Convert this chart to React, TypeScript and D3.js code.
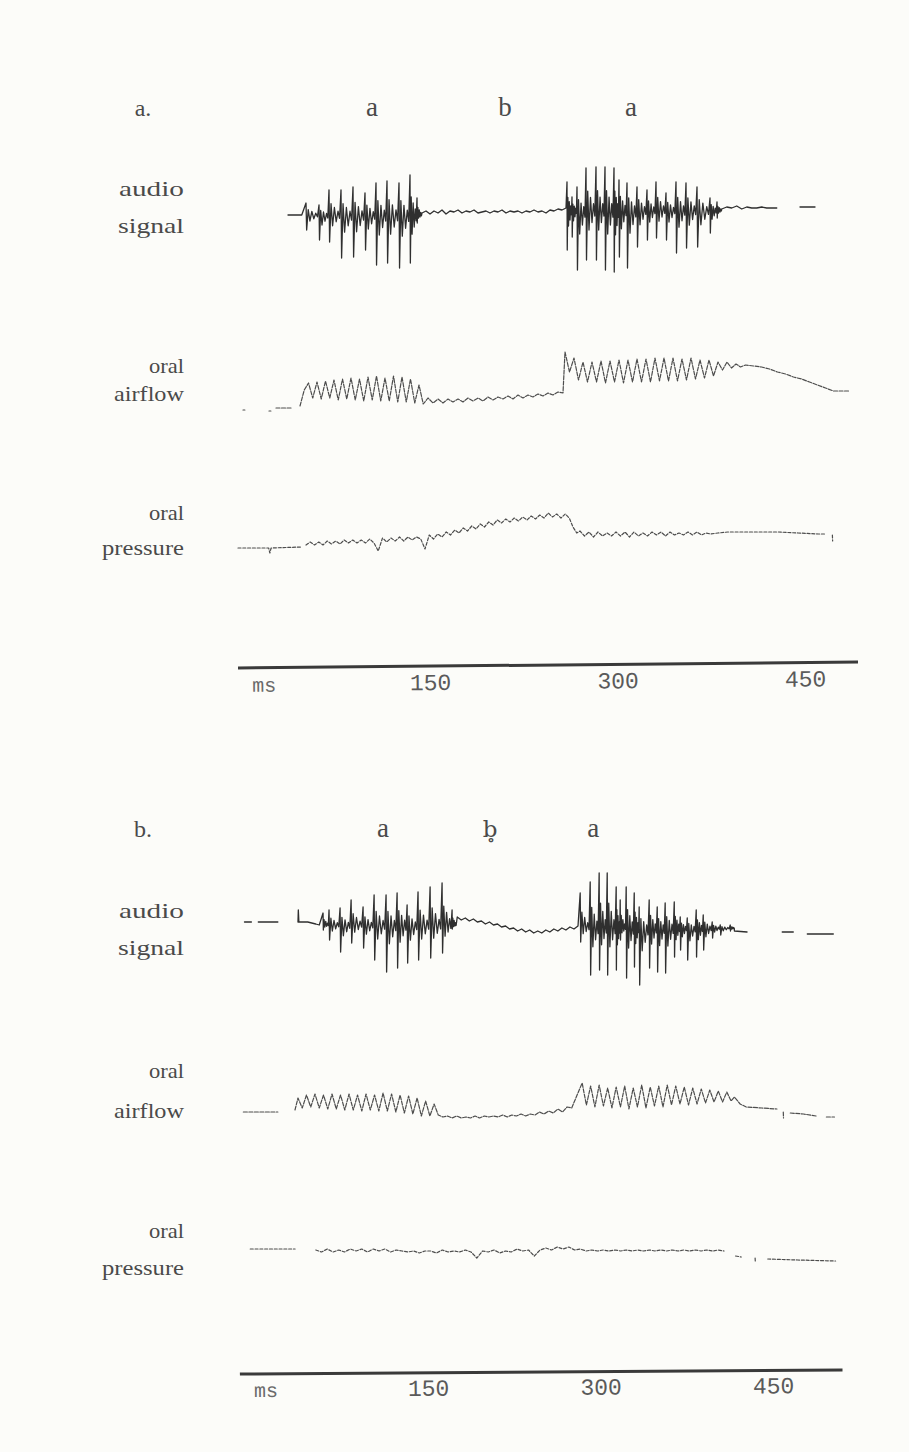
import React from "react";
import * as d3 from "d3";

type Pt = [number, number];
type Pulse = [number, number, number]; // time ms, positive peak, negative peak
type Run = { t0?: number; dt?: number; v?: number[]; pts?: Pt[]; pulses?: Pulse[]; base?: number; join?: boolean };

// ---------- text ----------
const PANEL_LETTERS = ["a.", "b."];
const PHONES_A = [{ t: 103.2, s: "a" }, { t: 209.6, s: "b" }, { t: 310.4, s: "a" }];
const PHONES_B = [{ t: 110.5, s: "a" }, { t: 203.6, s: "b\u0325" }, { t: 293.2, s: "a" }];
const TRACE_NAMES = [["audio", "signal"], ["oral", "airflow"], ["oral", "pressure"]];
const TICK_VALUES = [150, 300, 450];
const UNIT_LABEL = "ms";

// ---------- panel a data (time in ms, amplitude in trace units) ----------
const AUDIO_A_LEAD: Run = { pts: [[36, -2], [47, -2]] };
const AUDIO_A_SYL1: Pulse[] = [[50.4, 12, -15], [60.8, 10, -25], [68.8, 25, -27], [78.4, 25, -43], [88.0, 28, -42], [97.6, 22, -35], [106.4, 32, -50], [115.2, 34, -48], [124.8, 32, -53], [133.6, 40, -48], [139.2, 17, -8]];
const AUDIO_A_MID = [0, 2, -1, 2, 0, 3, -1, 2, 1, 3, 0, 2, 1, 3, 0, 1, 2, 0, 2, 1, 3, 0, 2, 1, 2, 0, 2, 1, 3, 1, 2, 0, 3, 2, 4, 3, 5];
const AUDIO_A_SYL2: Pulse[] = [[259.2, 28, -40], [263.2, 13, -27], [267.2, 23, -60], [274.4, 42, -50], [282.4, 43, -50], [289.6, 43, -60], [296.8, 42, -62], [300.8, 30, -47], [307.2, 27, -58], [315.2, 23, -37], [323.2, 20, -30], [330.4, 28, -28], [338.4, 17, -30], [346.4, 28, -43], [354.4, 27, -38], [363.2, 23, -37], [373.6, 12, -23], [379.2, 8, -8]];
const AUDIO_A_TAIL = [4, 6, 5, 7, 4, 6, 5, 5, 6, 5, 5, 5];
const AUDIO_A_DASH: Pt[] = [[445.6, 6], [457.6, 6]];

const AIRFLOW_A_DOTS: Pt[][] = [[[0, -10], [1.5, -10]], [[20.8, -11], [22.3, -11]], [[26.4, -8], [38.4, -8]]];
const AIRFLOW_A_VOWEL1 = [-6, 10, 17, 2, 18, 1, 19, 2, 20, 0, 21, 1, 22, 0, 21, -1, 23, 0, 24, -1, 22, -1, 24, -2, 23, -2, 21, -3, 15, -4];
const AIRFLOW_A_STOP = [2, -3, 1, -3, 1, -2, 1, -2, 2, -1, 2, -1, 3, 0, 3, 1, 4, 1, 5, 2, 5, 3, 6, 4, 7, 5, 8, 7];
const AIRFLOW_A_VOWEL2 = [48, 28, 42, 20, 38, 18, 38, 18, 39, 17, 39, 18, 40, 17, 40, 18, 41, 18, 41, 18, 42, 19, 42, 19, 42, 19, 41, 20, 42, 21, 40, 22, 40, 24, 38, 30, 38, 32, 36, 33];
const AIRFLOW_A_DECAY = [35, 34, 33, 31, 28, 26, 23, 21, 18, 15, 12, 9, 9, 9];

const PRESSURE_A_LEAD: Pt[] = [[-4, -8], [20.5, -8], [21.5, -13], [22.5, -8], [47.2, -7]];
const PRESSURE_A_RISE = [-5, -2, -5, -2, -5, -1, -4, -1, -4, 0, -3, 0, -3, 0, -3, 1, -3, -11, 2, -2, 2, -1, 3, -1, 3, 0, 3, 1, -9, 5, 1, 6, 3, 8, 5, 10, 7, 12, 9, 14, 11, 16, 13, 18, 15, 20, 17, 21, 18, 22, 19, 23, 20, 24, 21, 25, 22, 27, 23, 26, 22, 26];
const PRESSURE_A_DROP: Pt[] = [[261, 22], [264, 13], [267, 7]];
const PRESSURE_A_VOWEL2 = [9, 4, 8, 3, 8, 4, 7, 4, 8, 4, 8, 3, 8, 4, 7, 4, 8, 5, 8, 4, 8, 5, 7, 5, 8, 5, 8, 5, 7, 6];
const PRESSURE_A_TAIL: Pt[] = [[380, 7], [388, 8], [428, 8], [444, 7], [460, 6], [466, 6]];
const PRESSURE_A_END: Pt[] = [[471.5, 5], [471.7, -1]];

// ---------- panel b data ----------
const AUDIO_B_DASHES: Pt[][] = [[[-10, 3], [-4, 3]], [[2, 3], [19, 3]]];
const AUDIO_B_ONSET: Pt[] = [[36.5, 3], [36.8, 15], [37.3, 3], [45, 3], [52, 1], [55, 0]];
const AUDIO_B_SYL1: Pulse[] = [[58.3, 12, -5], [63.5, 15, -15], [73.1, 17, -27], [82.7, 25, -18], [93.1, 18, -23], [102.7, 30, -35], [113.1, 30, -47], [122.7, 32, -43], [131.4, 20, -38], [140.9, 33, -35], [151.4, 38, -33], [161.8, 42, -28], [170.5, 15, -4]];
const AUDIO_B_MID = [8, 5, 7, 4, 6, 3, 4, 1, 3, 0, 1, -2, -1, -4, -3, -6, -4, -7, -5, -8, -6, -8, -5, -7, -4, -6, -3, -5, -2, -4, -1];
const AUDIO_B_SYL2: Pulse[] = [[281.9, 35, -14], [290.6, 46, -47], [298.4, 55, -42], [305.4, 55, -47], [313.2, 41, -42], [316.7, 28, -12], [321.9, 41, -50], [328.9, 35, -39], [333.2, 21, -57], [341.9, 28, -40], [348.9, 21, -44], [355.8, 25, -45], [363.7, 26, -29], [368.9, 11, -22], [375, 10, -32], [382.8, 18, -29], [388.9, 13, -22], [396.7, 6, -10], [403.7, 3, -7], [412.4, 3, -3]];
const AUDIO_B_TAIL: Pt[] = [[416, -6], [427, -7]];
const AUDIO_B_END: Pt[][] = [[[457.6, -7], [467.2, -7]], [[479.4, -9], [502, -9]]];

const AIRFLOW_B_LEAD: Pt[] = [[-11, -2], [19, -2]];
const AIRFLOW_B_VOWEL1 = [12, 2, 15, 3, 16, 2, 15, 1, 16, 1, 15, 0, 16, 0, 15, -1, 16, 0, 15, -1, 17, -1, 16, -2, 15, -3, 14, -4, 12, -6, 9, -6, 6];
const AIRFLOW_B_STOP = [-5, -7, -6, -8, -6, -8, -7, -8, -6, -8, -6, -7, -6, -7, -5, -7, -5, -6, -4, -6, -4, -5, -2, -4, -1, -3, 1, -2, 3, 2];
const AIRFLOW_B_VOWEL2 = [27, 5, 24, 3, 25, 4, 22, 2, 23, 3, 24, 1, 22, 3, 25, 2, 23, 4, 24, 3, 25, 5, 24, 6, 23, 5, 22, 6, 21, 7, 20, 8, 19, 8, 18, 9];
const AIRFLOW_B_DECAY: Pt[] = [[416, 13], [421, 6], [426.3, 3], [440, 2], [453, 1]];
const AIRFLOW_B_END: Pt[][] = [[[458.5, -2], [458.7, -8]], [[464.6, -3], [476, -4], [487, -6]], [[496, -7], [503, -7]]];

const PRESSURE_B_LEAD: Pt[] = [[-5, 1], [34, 1]];
const PRESSURE_B_MAIN = [0, -2, 1, -2, 0, -2, 1, -1, 1, -2, 1, -1, 1, -2, 0, -1, -2, -1, -3, -1, -1, -3, 0, -2, -1, -2, 0, -2, -8, -1, -2, 0, -3, -1, -2, 1, -1, 0, -6, 0, 2, 0, 3, 1, 3, 0, 1, -1, 0, -1, 0, -1, 0, -1, 0, -1, 0, -1, 0, -1, 0, -1, 0, -1, 0, -1, 0, -1, 0, -1, 0, -1];
const PRESSURE_B_END: Pt[][] = [[[417, -6], [422, -7]], [[434, -8], [434.2, -12]], [[445, -9], [471, -10], [504, -11]]];

// ---------- assembled runs ----------
const AUDIO_A: Run[] = [
  AUDIO_A_LEAD,
  { pulses: AUDIO_A_SYL1, base: -2, join: true },
  { t0: 143.2, dt: 3.2, v: AUDIO_A_MID, join: true },
  { pulses: AUDIO_A_SYL2, base: 3, join: true },
  { t0: 383, dt: 4, v: AUDIO_A_TAIL, join: true },
  { pts: AUDIO_A_DASH },
];
const AIRFLOW_A: Run[] = [
  ...AIRFLOW_A_DOTS.map((p) => ({ pts: p })),
  { t0: 45.6, dt: 3.4, v: AIRFLOW_A_VOWEL1 },
  { t0: 148, dt: 4, v: AIRFLOW_A_STOP, join: true },
  { t0: 257.6, dt: 3.6, v: AIRFLOW_A_VOWEL2, join: true },
  { t0: 402, dt: 6.4, v: AIRFLOW_A_DECAY, join: true },
];
const PRESSURE_A: Run[] = [
  { pts: PRESSURE_A_LEAD },
  { t0: 50.4, dt: 3.4, v: PRESSURE_A_RISE },
  { pts: PRESSURE_A_DROP, join: true },
  { t0: 269.6, dt: 3.6, v: PRESSURE_A_VOWEL2, join: true },
  { pts: PRESSURE_A_TAIL, join: true },
  { pts: PRESSURE_A_END },
];
const AUDIO_B: Run[] = [
  ...AUDIO_B_DASHES.map((p) => ({ pts: p })),
  { pts: AUDIO_B_ONSET },
  { pulses: AUDIO_B_SYL1, base: 0, join: true },
  { t0: 175, dt: 3.5, v: AUDIO_B_MID, join: true },
  { pulses: AUDIO_B_SYL2, base: -3, join: true },
  { pts: AUDIO_B_TAIL, join: true },
  ...AUDIO_B_END.map((p) => ({ pts: p })),
];
const AIRFLOW_B: Run[] = [
  { pts: AIRFLOW_B_LEAD },
  { pts: [[33.9, 0]] },
  { t0: 36.5, dt: 3.7, v: AIRFLOW_B_VOWEL1, join: true },
  { t0: 158.5, dt: 4, v: AIRFLOW_B_STOP, join: true },
  { t0: 283.6, dt: 3.7, v: AIRFLOW_B_VOWEL2, join: true },
  { pts: AIRFLOW_B_DECAY, join: true },
  ...AIRFLOW_B_END.map((p) => ({ pts: p })),
];
const PRESSURE_B: Run[] = [
  { pts: PRESSURE_B_LEAD },
  { t0: 52, dt: 5, v: PRESSURE_B_MAIN },
  ...PRESSURE_B_END.map((p) => ({ pts: p })),
];

// glottal pulse glyph: relative positions within one period and amplitude weights
const GLYPH_POS = [0, 0.05, 0.17, 0.3, 0.45, 0.6, 0.75, 0.88];
const GLYPH_W: [number, number][] = [[1, 0], [0, 1], [0.45, 0], [0, 0.4], [0.3, 0], [0, 0.25], [0.15, 0], [0, 0.12]];

function runPoints(r: Run): Pt[] {
  if (r.pts) return r.pts;
  if (r.pulses) {
    const out: Pt[] = [];
    const b = r.base ?? 0;
    r.pulses.forEach((p, i) => {
      const next = r.pulses![i + 1];
      const P = next ? next[0] - p[0] : 4;
      GLYPH_POS.forEach((f, k) => {
        const [wu, wd] = GLYPH_W[k];
        out.push([p[0] + f * P, b + wu * p[1] + wd * p[2]]);
      });
    });
    return out;
  }
  return r.v!.map((v, i) => [r.t0! + i * r.dt!, v] as Pt);
}

function strokes(runs: Run[]): Pt[][] {
  const out: Pt[][] = [];
  runs.forEach((r) => {
    const p = runPoints(r);
    if (r.join && out.length) out[out.length - 1].push(...p);
    else out.push([...p]);
  });
  return out;
}

const INK = "#3a3a3a";
const SERIF = "'Liberation Serif', 'Times New Roman', serif";
const MONO = "'Liberation Mono', 'DejaVu Sans Mono', monospace";
const NAME_WIDTHS = [[65, 66], [35, 70], [35, 82]];

type PanelCfg = {
  letter: string;
  phones: { t: number; s: string }[];
  x: d3.ScaleLinear<number, number>;
  axisExtent: [number, number];
  headY: number;
  zeros: number[];
  runs: Run[][];
  nameY: [number, number][];
  axisY: number;
  tickY: number;
  tilt: number;
};

function Trace({ runs, x, zero, width, color, dash }: { runs: Run[]; x: d3.ScaleLinear<number, number>; zero: number; width: number; color: string; dash?: string }) {
  const y = d3.scaleLinear().domain([-70, 70]).range([zero + 70, zero - 70]);
  const line = d3.line<Pt>().x((d) => x(d[0])).y((d) => y(d[1])).curve(d3.curveLinear);
  return (
    <g>
      {strokes(runs).map((s, i) => (
        <path key={i} d={line(s) || ""} fill="none" stroke={color} strokeWidth={width} strokeLinejoin="round" strokeLinecap="round" strokeDasharray={dash} />
      ))}
    </g>
  );
}

function Panel({ cfg }: { cfg: PanelCfg }) {
  const { x } = cfg;
  const [a0, a1] = cfg.axisExtent;
  const cx = (x(a0) + x(a1)) / 2;
  return (
    <g>
      <text x={143} y={cfg.headY} textAnchor="middle" fontFamily={SERIF} fontSize={24} fill="#4a4a4a">{cfg.letter}</text>
      {cfg.phones.map((p, i) => (
        <text key={i} x={x(p.t)} y={cfg.headY} textAnchor="middle" fontFamily={p.s.length > 1 ? "'DejaVu Serif', serif" : SERIF} fontSize={p.s.length > 1 ? 23 : 27} fill="#4a4a4a">{p.s}</text>
      ))}
      {TRACE_NAMES.map((names, i) =>
        names.map((n, j) => (
          <text key={`${i}-${j}`} x={184 - NAME_WIDTHS[i][j]} y={cfg.nameY[i][j]} textLength={NAME_WIDTHS[i][j]} lengthAdjust="spacingAndGlyphs" fontFamily={SERIF} fontSize={22} fill="#4a4a4a">{n}</text>
        ))
      )}
      <Trace runs={cfg.runs[0]} x={x} zero={cfg.zeros[0]} width={1.3} color="#2f2f2f" />
      <Trace runs={cfg.runs[1]} x={x} zero={cfg.zeros[1]} width={1.2} color="#4d4d4d" dash="4 1.5" />
      <Trace runs={cfg.runs[2]} x={x} zero={cfg.zeros[2]} width={1.2} color="#4d4d4d" dash="3 1.8" />
      <g transform={`rotate(${cfg.tilt},${cx},${cfg.axisY})`}>
        <line x1={x(a0)} x2={x(a1)} y1={cfg.axisY} y2={cfg.axisY} stroke={INK} strokeWidth={3} />
        <text x={x(a0) + 26} y={cfg.tickY} textAnchor="middle" fontFamily={MONO} fontSize={20} fill="#6a6a6a">{UNIT_LABEL}</text>
        {TICK_VALUES.map((t) => (
          <text key={t} x={x(t)} y={cfg.tickY} textAnchor="middle" fontFamily={MONO} fontSize={23} fill="#5a5a5a">{t}</text>
        ))}
      </g>
    </g>
  );
}

export default function App() {
  const xA = d3.scaleLinear().domain([0, 450]).range([243, 805.5]);
  const xB = d3.scaleLinear().domain([0, 450]).range([256, 773.5]);
  const panels: PanelCfg[] = [
    {
      letter: PANEL_LETTERS[0], phones: PHONES_A, x: xA, axisExtent: [-4, 492], headY: 116,
      zeros: [213, 400, 540], runs: [AUDIO_A, AIRFLOW_A, PRESSURE_A],
      nameY: [[196, 233], [373, 401], [520, 555]], axisY: 665, tickY: 689, tilt: -0.55,
    },
    {
      letter: PANEL_LETTERS[1], phones: PHONES_B, x: xB, axisExtent: [-14, 510], headY: 837,
      zeros: [925, 1110, 1250], runs: [AUDIO_B, AIRFLOW_B, PRESSURE_B],
      nameY: [[918, 955], [1078, 1118], [1238, 1275]], axisY: 1372, tickY: 1395, tilt: -0.4,
    },
  ];
  return (
    <svg width={909} height={1452} viewBox="0 0 909 1452" style={{ position: "absolute", left: 0, top: 0, display: "block" }}>
      <rect width={909} height={1452} fill="#fcfcf9" />
      {panels.map((p, i) => <Panel key={i} cfg={p} />)}
    </svg>
  );
}
